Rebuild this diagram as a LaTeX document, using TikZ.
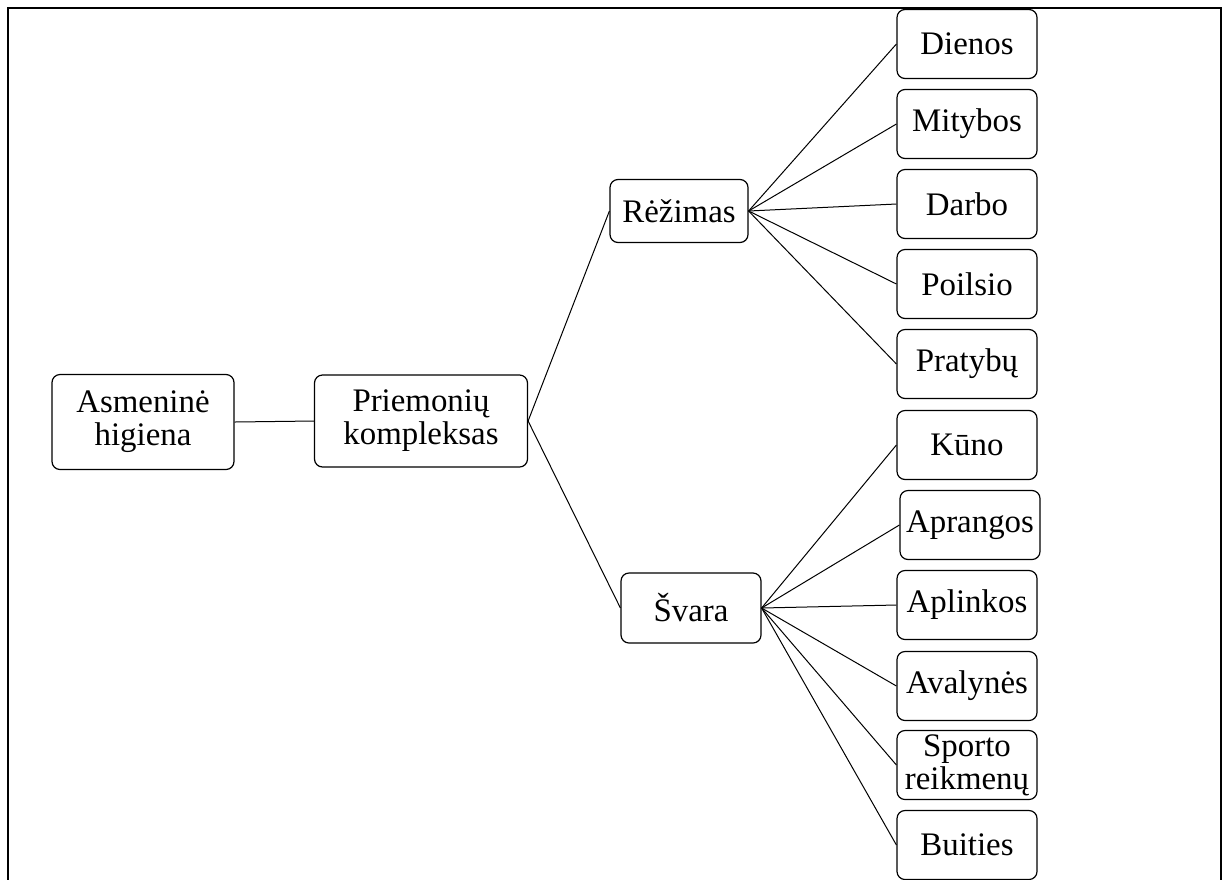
\documentclass[tikz,border=0pt]{standalone}
\usepackage{fontspec}
\setmainfont{Liberation Serif}
\usepackage{tikz}
\usetikzlibrary{arrows,shapes}

\begin{document}
\begin{tikzpicture}[x=0.5bp,y=-0.5bp,
  box/.style={draw,rounded corners=4bp,line width=0.6bp,inner sep=0pt,align=center,font=\rmfamily\fontsize{16.5}{16.5}\selectfont},
  leaf/.style={box,minimum width=70bp,minimum height=34.5bp},
  link/.style={line width=0.5bp}]
\useasboundingbox (0,0) rectangle (1226,879);
\draw [line width=1.2bp] (8,882) -- (8,8) -- (1221,8) -- (1221,882);
\node (AH) at (143,422)[box,minimum width=91bp,minimum height=47.5bp] {Asmeninė\\higiena};
\node (PK) at (421,421)[box,minimum width=106.5bp,minimum height=46bp] {Priemonių\\kompleksas};
\node (RZ) at (679,211)[box,minimum width=69bp,minimum height=31.5bp] {Rėžimas};
\node (SV) at (691,608)[box,minimum width=70bp,minimum height=35bp] {Švara};
\node (R1) at (967,44)[leaf] {Dienos};
\node (R2) at (967,124)[leaf] {Mitybos};
\node (R3) at (967,204)[leaf] {Darbo};
\node (R4) at (967,284)[leaf] {Poilsio};
\node (R5) at (967,364)[leaf] {Pratybų};
\node (S1) at (967,445)[leaf] {Kūno};
\node (S2) at (970,525)[leaf] {Aprangos};
\node (S3) at (967,605)[leaf] {Aplinkos};
\node (S4) at (967,686)[leaf] {Avalynės};
\node (S5) at (967,765)[leaf] {Sporto\\reikmenų};
\node (S6) at (967,845)[leaf] {Buities};
\draw [link] (AH.east) -- (PK.west);
\draw [link] (PK.east) -- (RZ.west);
\draw [link] (PK.east) -- (SV.west);
\foreach \n in {R1,R2,R3,R4,R5}
  \draw [link] (RZ.east) -- (\n.west);
\foreach \n in {S1,S2,S3,S4,S5,S6}
  \draw [link] (SV.east) -- (\n.west);
\end{tikzpicture}
\end{document}
